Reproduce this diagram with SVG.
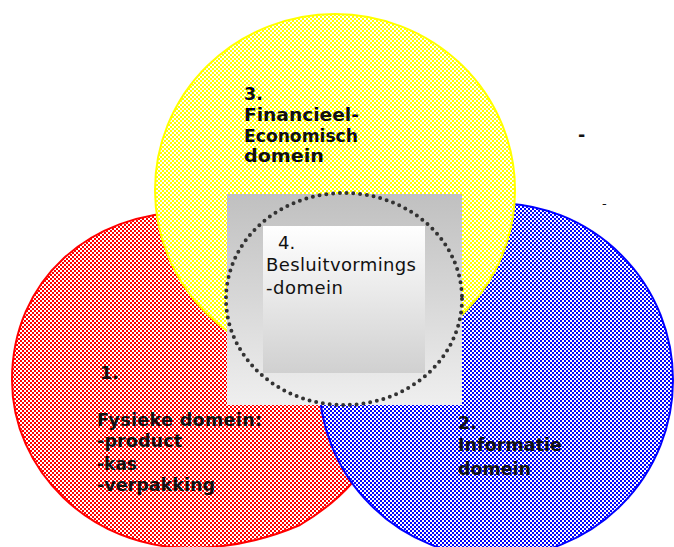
<svg xmlns="http://www.w3.org/2000/svg" width="674" height="547" viewBox="0 0 674 547">
<defs>
<pattern id="pRed" width="4" height="4" patternUnits="userSpaceOnUse"><rect width="4" height="4" fill="#fff"/><rect width="2" height="2" fill="#ff0000"/><rect x="2" y="2" width="2" height="2" fill="#ff0000"/></pattern>
<pattern id="pBlue" width="4" height="4" patternUnits="userSpaceOnUse"><rect width="4" height="4" fill="#fff"/><rect width="2" height="2" fill="#0000ff"/><rect x="2" y="2" width="2" height="2" fill="#0000ff"/></pattern>
<pattern id="pYel" width="4" height="4" patternUnits="userSpaceOnUse"><rect width="4" height="4" fill="#fff"/><rect width="2" height="2" fill="#ffff00"/><rect x="2" y="2" width="2" height="2" fill="#ffff00"/></pattern>
<linearGradient id="gOuter" x1="0" y1="0" x2="0" y2="1"><stop offset="0" stop-color="#c0c0c0"/><stop offset="1" stop-color="#efefef"/></linearGradient>
<linearGradient id="gInner" x1="0" y1="0" x2="0" y2="1"><stop offset="0" stop-color="#ffffff"/><stop offset="1" stop-color="#d0d0d0"/></linearGradient>
</defs>
<style>
.b{font-family:"DejaVu Sans",Verdana,sans-serif;font-weight:bold;font-size:17.5px;fill:#111}
.n{font-family:"DejaVu Sans",Verdana,sans-serif;font-size:18px;fill:#111}
</style>
<rect width="674" height="547" fill="#fff"/>
<g id="fysiek">
<path d="M12,380 C12,280 90,212 190,212 C290,212 375,300 375,410 C375,440 366,466 352,483 C337,500 320,513 300,525 C265,540 230,548 190,548 C90,548 12,470 12,380 Z" fill="url(#pRed)" stroke="#ff0000" stroke-width="2"/>
</g>
<g id="informatie">
<circle cx="496" cy="380" r="177" fill="url(#pBlue)" stroke="#0000ff" stroke-width="2"/>
</g>
<g id="financieel">
<ellipse cx="335" cy="190" rx="180" ry="176" fill="url(#pYel)" stroke="#ffff00" stroke-width="2"/>
</g>
<g id="besluit">
<rect x="227" y="194" width="235" height="211" fill="url(#gOuter)"/>
<rect x="263" y="226" width="162" height="147" fill="url(#gInner)"/>
<ellipse cx="344" cy="299" rx="118" ry="106" fill="none" stroke="#333" stroke-width="4" stroke-linecap="round" stroke-dasharray="0 6.8"/>
<text class="n" x="278" y="249">4.</text>
<text class="n" x="266" y="271" textLength="150" lengthAdjust="spacing">Besluitvormings</text>
<text class="n" x="266" y="294" textLength="77" lengthAdjust="spacing">-domein</text>
</g>
<g id="labels">
<text class="b" x="244" y="100">3.</text>
<text class="b" x="244" y="120.5" textLength="115" lengthAdjust="spacingAndGlyphs">Financieel-</text>
<text class="b" x="244" y="141.5" textLength="114" lengthAdjust="spacingAndGlyphs">Economisch</text>
<text class="b" x="244" y="162" textLength="80" lengthAdjust="spacingAndGlyphs">domein</text>
<text class="b" x="100" y="379">1.</text>
<text class="b" x="97" y="426" textLength="165" lengthAdjust="spacing">Fysieke domein:</text>
<text class="b" x="97" y="447" textLength="85" lengthAdjust="spacing">-product</text>
<text class="b" x="97" y="470" textLength="40" lengthAdjust="spacingAndGlyphs">-kas</text>
<text class="b" x="97" y="491" textLength="118" lengthAdjust="spacingAndGlyphs">-verpakking</text>
<text class="b" x="458" y="429">2.</text>
<text class="b" x="458" y="451" textLength="104" lengthAdjust="spacingAndGlyphs">Informatie</text>
<text class="b" x="458" y="475" textLength="73" lengthAdjust="spacingAndGlyphs">domein</text>
<text class="b" x="578" y="141">-</text>
<text class="n" x="602" y="208" style="font-size:13px">-</text>
</g>
<g id="connectors"/>
</svg>
